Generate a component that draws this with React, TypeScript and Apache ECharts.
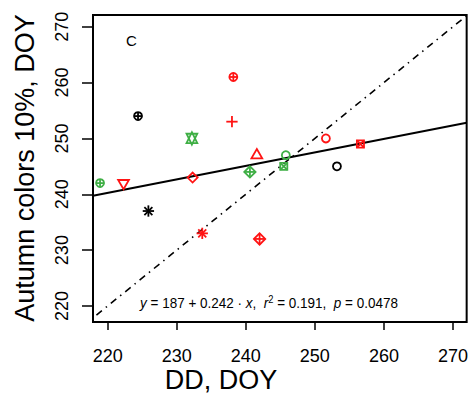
import React, { useEffect, useRef } from "react";
import * as echarts from "echarts";

// ---- data ----
const X_VALUES = [224.4, 225.9, 253.2, 238.2, 238.0, 241.6, 232.3, 222.3, 233.7, 242.0, 251.6, 256.6, 218.9, 232.2, 240.6, 245.8, 245.5];
const Y_VALUES = [254, 237, 245, 261, 253, 247, 243, 242, 233, 232, 250, 249, 242, 250, 244, 247, 245];
// R plotting symbols (pch)
const PCH = [10, 8, 1, 10, 3, 2, 5, 6, 8, 9, 1, 7, 10, 11, 9, 1, 7];
// colour groups: 0 black, 1 red, 2 green
const GROUP = [0, 0, 0, 1, 1, 1, 1, 1, 1, 1, 1, 1, 2, 2, 2, 2, 2];
const COLORS = ["#000000", "#FF1414", "#3FAF45"];

const TICKS = [220, 230, 240, 250, 260, 270];
const X_MIN = 217.88;
const X_MAX = 271.98;
const Y_MIN = 217.13;
const Y_MAX = 272.1;

const B0 = 187;
const B1 = 0.242;
const R2 = 0.191;
const P_VALUE = 0.0478;

const X_TITLE = "DD, DOY";
const Y_TITLE = "Autumn colors 10%, DOY";
const PANEL_LABEL = "C";

const FONT = "Liberation Sans, Arial, sans-serif";

function renderItem(params: any, api: any) {
  const pt = api.coord([api.value(0), api.value(1)]);
  const pch = api.value(2);
  const color = COLORS[api.value(3)];
  const cx = pt[0];
  const cy = pt[1];
  const R = 4;
  const children: any[] = [];
  const st = () => ({ stroke: color, fill: "none", lineWidth: 1.8 });
  const line = (x1: number, y1: number, x2: number, y2: number) =>
    children.push({ type: "line", shape: { x1, y1, x2, y2 }, style: st() });
  const poly = (points: number[][]) => children.push({ type: "polygon", shape: { points }, style: st() });
  const circ = (r: number) => children.push({ type: "circle", shape: { cx, cy, r }, style: st() });
  const TRC0 = 1.5551;
  const TRC1 = 1.3468;
  const TRC2 = 0.7776;
  switch (pch) {
    case 1:
      circ(R);
      break;
    case 2: {
      const r = TRC0 * R, yc = TRC2 * R, xc = TRC1 * R;
      poly([[cx, cy - r], [cx + xc, cy + yc], [cx - xc, cy + yc]]);
      break;
    }
    case 6: {
      const r = TRC0 * R, yc = TRC2 * R, xc = TRC1 * R;
      poly([[cx, cy + r], [cx + xc, cy - yc], [cx - xc, cy - yc]]);
      break;
    }
    case 3: {
      const xc = Math.SQRT2 * R;
      line(cx - xc, cy, cx + xc, cy);
      line(cx, cy - xc, cx, cy + xc);
      break;
    }
    case 5: {
      const xc = 1.2533 * R;
      poly([[cx - xc, cy], [cx, cy - xc], [cx + xc, cy], [cx, cy + xc]]);
      break;
    }
    case 7: {
      const xc = 0.8862 * R;
      poly([[cx - xc, cy - xc], [cx + xc, cy - xc], [cx + xc, cy + xc], [cx - xc, cy + xc]]);
      line(cx - xc, cy - xc, cx + xc, cy + xc);
      line(cx - xc, cy + xc, cx + xc, cy - xc);
      break;
    }
    case 8: {
      const xc = R;
      line(cx - xc, cy - xc, cx + xc, cy + xc);
      line(cx - xc, cy + xc, cx + xc, cy - xc);
      const xp = Math.SQRT2 * R;
      line(cx - xp, cy, cx + xp, cy);
      line(cx, cy - xp, cx, cy + xp);
      break;
    }
    case 9: {
      const xc = Math.SQRT2 * R;
      line(cx - xc, cy, cx + xc, cy);
      line(cx, cy - xc, cx, cy + xc);
      poly([[cx - xc, cy], [cx, cy - xc], [cx + xc, cy], [cx, cy + xc]]);
      break;
    }
    case 10: {
      circ(R);
      line(cx - R, cy, cx + R, cy);
      line(cx, cy - R, cx, cy + R);
      break;
    }
    case 11: {
      const r = TRC0 * R;
      const yc = 0.5 * (TRC2 * R + r);
      const xc = TRC1 * R;
      poly([[cx, cy - r], [cx + xc, cy + yc], [cx - xc, cy + yc]]);
      poly([[cx, cy + r], [cx + xc, cy - yc], [cx - xc, cy - yc]]);
      break;
    }
    default:
      circ(R);
  }
  return { type: "group", children };
}

export default function App() {
  const ref = useRef<HTMLDivElement>(null);
  useEffect(() => {
    if (!ref.current) return;
    const chart = echarts.init(ref.current, null, { renderer: "svg" });
    const points = X_VALUES.map((x, i) => [x, Y_VALUES[i], PCH[i], GROUP[i]]);
    const fitLine = [X_MIN, X_MAX].map((x) => [x, B0 + B1 * x]);
    const oneToOne = [Math.min(X_MIN, Y_MIN) - 5, Math.max(X_MAX, Y_MAX) + 5].map((v) => [v, v]);
    const axisCommon = {
      type: "value",
      splitLine: { show: false },
      axisLine: { show: false },
    };
    chart.setOption({
      animation: false,
      backgroundColor: "#ffffff",
      grid: {
        left: 93,
        right: 4,
        top: 15,
        bottom: 79,
        show: true,
        borderColor: "#000",
        borderWidth: 2,
        backgroundColor: "transparent",
      },
      xAxis: {
        ...axisCommon,
        min: X_MIN,
        max: X_MAX,
        axisTick: { show: true, customValues: TICKS, length: 8, inside: false, lineStyle: { color: "#000", width: 1.5 } },
        axisLabel: {
          customValues: TICKS,
          margin: 25,
          fontSize: 18,
          color: "#000",
          fontFamily: FONT,
          showMinLabel: true,
          showMaxLabel: true,
        },
      },
      yAxis: {
        ...axisCommon,
        min: Y_MIN,
        max: Y_MAX,
        axisTick: { show: true, customValues: TICKS, length: 11, inside: false, lineStyle: { color: "#000", width: 1.5 } },
        axisLabel: {
          customValues: TICKS,
          rotate: 90,
          margin: 22,
          fontSize: 18,
          color: "#000",
          fontFamily: FONT,
          showMinLabel: true,
          showMaxLabel: true,
        },
      },
      series: [
        {
          type: "line",
          data: oneToOne,
          symbol: "none",
          silent: true,
          clip: true,
          lineStyle: { color: "#000", width: 1.6, type: [7, 5, 1.5, 5] },
          z: 1,
        },
        {
          type: "line",
          data: fitLine,
          symbol: "none",
          silent: true,
          clip: true,
          lineStyle: { color: "#000", width: 2, type: "solid" },
          z: 2,
        },
        {
          type: "custom",
          coordinateSystem: "cartesian2d",
          renderItem,
          data: points,
          encode: { x: 0, y: 1 },
          clip: false,
          silent: true,
          z: 3,
        },
      ],
      graphic: [
        {
          type: "text",
          x: 221,
          y: 380,
          style: {
            text: X_TITLE,
            fontSize: 27,
            lineHeight: 22,
            fontFamily: FONT,
            fill: "#000",
            align: "center",
            verticalAlign: "middle",
          },
        },
        {
          type: "text",
          x: 25,
          y: 168,
          rotation: Math.PI / 2,
          style: {
            text: Y_TITLE,
            fontSize: 27,
            fontFamily: FONT,
            fill: "#000",
            align: "center",
            verticalAlign: "middle",
          },
        },
        {
          type: "text",
          x: 131.5,
          y: 40,
          style: {
            text: PANEL_LABEL,
            fontSize: 15,
            fontFamily: FONT,
            fill: "#000",
            align: "center",
            verticalAlign: "middle",
          },
        },
        {
          type: "text",
          x: 269,
          y: 303,
          scaleX: 0.93,
          style: {
            text: `{i|y} = ${B0} + ${B1} · {i|x},  {i|r}{s|2} = ${R2},  {i|p} = ${P_VALUE}`,
            fontSize: 14.5,
            fontFamily: FONT,
            fill: "#000",
            align: "center",
            verticalAlign: "middle",
            lineHeight: 17,
            rich: {
              i: { fontStyle: "italic", fontSize: 14.5, fontFamily: FONT, fill: "#000", lineHeight: 17 },
              s: { fontSize: 10, fontFamily: FONT, fill: "#000", verticalAlign: "top", lineHeight: 10 },
            },
          },
        },
      ],
    });
    return () => chart.dispose();
  }, []);
  return <div ref={ref} style={{ width: 471, height: 401, position: "absolute", left: 0, top: 0 }} />;
}
